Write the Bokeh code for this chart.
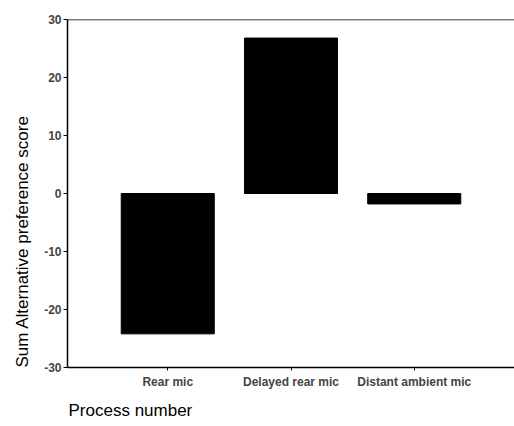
from bokeh.plotting import figure
from bokeh.models import FactorRange, Range1d, Span, Title, FixedTicker, ColumnDataSource
from bokeh.embed import file_html
from bokeh.resources import INLINE

categories = ["Rear mic", "Delayed rear mic", "Distant ambient mic"]
scores = [-24.2, 26.8, -1.8]
y_ticks = [-30, -20, -10, 0, 10, 20, 30]
y_tick_labels = ["-30", "-20", "-10", "0", "10", "20", "30"]
y_title = "Sum Alternative preference score"
x_title = "Process number"

FONT = "Liberation Sans"

src = ColumnDataSource(dict(cat=categories, score=scores))

p = figure(
    width=514, height=426,
    x_range=FactorRange(*categories, range_padding=0.209),
    y_range=Range1d(-30, 30),
    output_backend="svg", toolbar_location=None,
    min_border_left=67, min_border_right=0, min_border_top=19, min_border_bottom=58,
)
p.outline_line_color = None
p.xgrid.visible = False
p.ygrid.visible = False
p.background_fill_color = "white"

p.vbar(x="cat", top="score", bottom=0, width=0.755, source=src,
       fill_color="black", line_color="black")

# top border line
p.add_layout(Span(location=30, dimension="width", line_color="black", line_width=1.5))

ya = p.yaxis[0]
ya.ticker = FixedTicker(ticks=y_ticks)
ya.major_label_overrides = {t: s for t, s in zip(y_ticks, y_tick_labels)}
ya.minor_tick_line_color = None
ya.major_tick_out = 4
ya.major_tick_in = 0
ya.major_label_standoff = 2
ya.major_label_text_font = FONT
ya.major_label_text_font_style = "bold"
ya.major_label_text_font_size = "12px"
ya.axis_line_width = 1.5
ya.axis_line_color = "black"

xa = p.xaxis[0]
xa.major_tick_out = 3
xa.major_tick_in = 0
xa.major_label_standoff = 4
xa.major_label_text_font = FONT
xa.major_label_text_font_style = "bold"
xa.major_label_text_font_size = "12px"
xa.axis_line_width = 1.5
xa.axis_line_color = "black"

p.add_layout(Title(text=y_title, align="left", offset=0, standoff=19,
                   text_font=FONT, text_font_size="17px", text_font_style="normal",
                   text_color="black"), "left")
p.add_layout(Title(text=x_title, align="left", offset=1, standoff=14,
                   text_font=FONT, text_font_size="17px", text_font_style="normal",
                   text_color="black"), "below")

open("out.html", "w").write(file_html(p, INLINE))
